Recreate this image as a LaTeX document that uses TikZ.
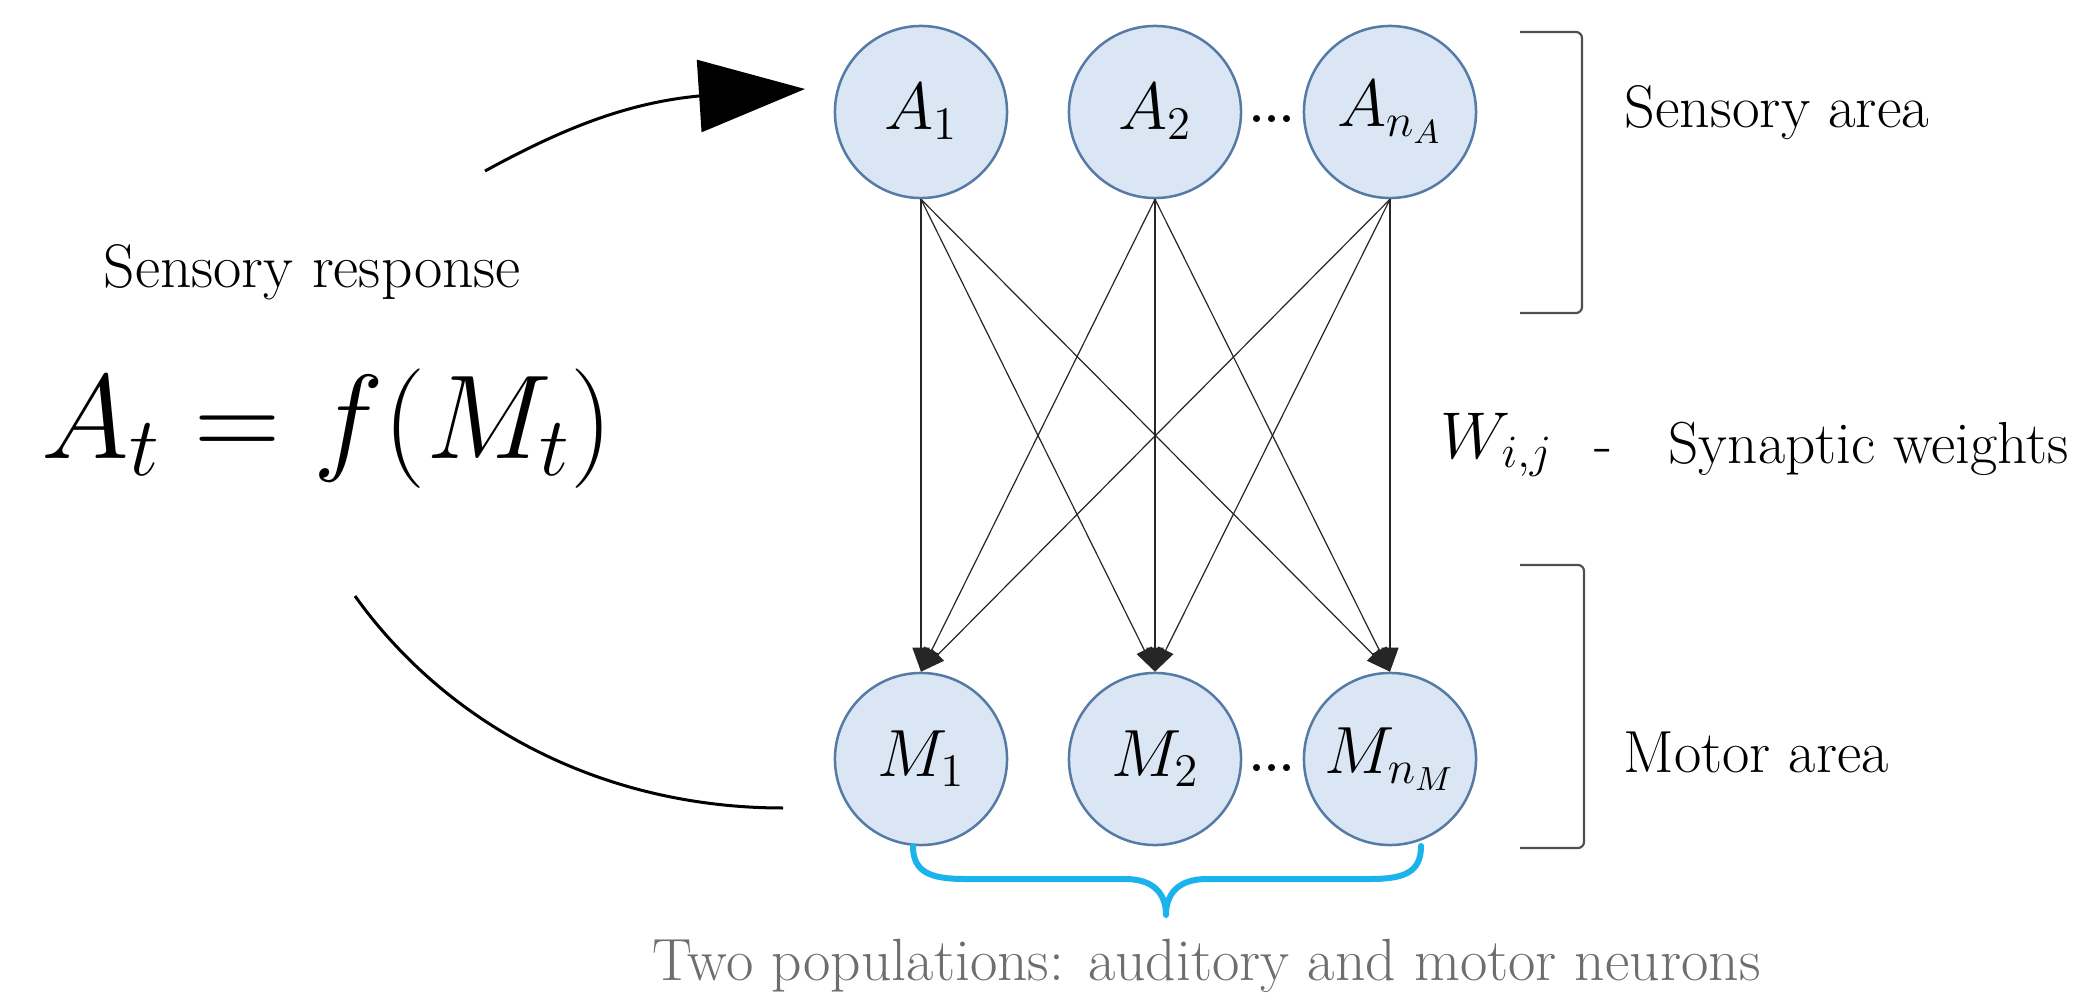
\RequirePackage{fix-cm}
\documentclass[tikz,border=0pt]{standalone}
\usepackage{fontspec}
\usetikzlibrary{arrows.meta}
\definecolor{nodefill}{RGB}{218,230,243}
\definecolor{nodedraw}{RGB}{85,122,165}
\definecolor{bracecol}{RGB}{27,179,236}
\definecolor{capgray}{RGB}{110,110,110}
\definecolor{brgray}{RGB}{80,80,80}
\tikzset{
  neuron/.style={circle, draw=nodedraw, fill=nodefill, line width=0.025cm, minimum size=1.72cm, inner sep=0pt, font=\fontsize{19}{21}\selectfont},
  syn/.style={draw=black!85, line width=0.012cm, -{Triangle[length=0.24cm,width=0.17cm]}},
  lbl/.style={inner sep=0pt, anchor=base west},
  dotsnode/.style={inner sep=0pt, anchor=base, font=\bfseries\fontsize{13.7}{16}\selectfont},
  bracketline/.style={draw=brgray, line width=0.022cm, rounded corners=0.06cm},
  loopline/.style={draw=black, line width=0.03cm},
  bluebrace/.style={draw=bracecol, line width=0.06cm, line cap=round, line join=round},
}
\begin{document}
\begin{tikzpicture}[x=0.01cm,y=-0.01cm]
\useasboundingbox (0,0) rectangle (2074,1000);

% neurons
\node[neuron] (A1) at (921,112) {$A_1$};
\node[neuron] (A2) at (1155,112) {$A_2$};
\node[neuron] (A3) at (1390,112) {$A_{n_A}$};
\node[neuron] (M1) at (921,759) {$M_1$};
\node[neuron] (M2) at (1155,759) {$M_2$};
\node[neuron] (M3) at (1390,759) {$M_{n_M}$};
\node[dotsnode] (dA) at (1272,122) {...};
\node[dotsnode] (dM) at (1272,771) {...};

% synapses
\foreach \i in {A1,A2,A3}
  \foreach \j in {M1,M2,M3}
    \draw[syn] (\i.south) -- (\j.north);

% loop arcs
\coordinate (up0) at (485,171);
\coordinate (up1) at (699,96);
\coordinate (uptip) at (805,89);
\draw[loopline, -{Triangle[length=1.06cm,width=0.72cm]}] (up0) .. controls (560,130) and (625,103) .. (up1) -- (uptip);
\coordinate (lo0) at (355,596);
\coordinate (lo1) at (783,808);
\draw[loopline] (lo0) .. controls (448,726) and (603,808) .. (lo1);

% texts
\node[lbl, font=\fontsize{17.5}{21}\selectfont] (sr) at (103,287) {Sensory response};
\node[inner sep=0pt, anchor=base west, font=\fontsize{34}{40}\selectfont] (eq) at (41,458) {$A_t = f(M_t)$};
\node[lbl, font=\fontsize{17.1}{21}\selectfont] (sa) at (1624,127) {Sensory area};
\node[lbl, font=\fontsize{16.9}{21}\selectfont] (ma) at (1623,772) {Motor area};
\node[inner sep=0pt, anchor=base west, font=\fontsize{18.8}{22}\selectfont] (w) at (1440,458) {$W_{i,j}$};
\node[lbl, font=\fontsize{16.9}{21}\selectfont] (dash) at (1594,463) {-};
\node[lbl, font=\fontsize{16.85}{21}\selectfont] (sw) at (1668,463) {Synaptic weights};
\node[lbl, font=\fontsize{16.95}{21}\selectfont, text=capgray] (cap) at (652,980) {Two populations: auditory and motor neurons};

% brackets
\draw[bracketline] (1520,32) -- (1582,32) -- (1582,313) -- (1520,313);
\draw[bracketline] (1520,565) -- (1584,565) -- (1584,848) -- (1520,848);

% blue brace
\draw[bluebrace] (913,846) .. controls (913,872) and (930,879) .. (965,879) -- (1125,879) .. controls (1155,879) and (1166,895) .. (1166,915)
  .. controls (1166,895) and (1177,879) .. (1207,879) -- (1370,879) .. controls (1405,879) and (1421,872) .. (1421,846);
\end{tikzpicture}
\end{document}
